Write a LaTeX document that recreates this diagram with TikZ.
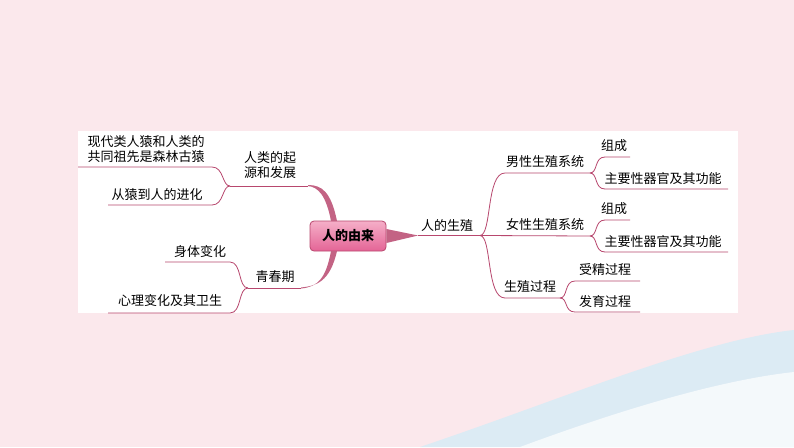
\documentclass[tikz,border=0pt]{standalone}
\usepackage{fontspec}
\usetikzlibrary{calc}
\newfontfamily\cjk{Noto Sans CJK SC}
\begin{document}
\begin{tikzpicture}[x=1pt,y=-1pt,
  ln/.style={draw=lc,line width=0.8pt},
  lbl/.style={font=\cjk\fontsize{13}{15}\selectfont,inner sep=1pt,align=left}]
\definecolor{lc}{HTML}{B8476E}
\definecolor{bg}{HTML}{FBE8EC}
\definecolor{wv}{HTML}{DCEBF4}
\useasboundingbox (0,0) rectangle (794,447);
\fill[bg] (0,0) rectangle (794,447);
\fill[wv] (420,447) .. controls (560,400) and (700,340) .. (794,330) -- (794,447) -- cycle;
\fill[white,opacity=0.7] (520,447) .. controls (620,410) and (720,380) .. (794,372) -- (794,447) -- cycle;
\fill[white] (78,131) rectangle (738,313);
% central
\node[draw=lc,line width=0.8pt,rounded corners=4pt,top color={rgb,255:red,245;green,175;blue,200},bottom color={rgb,255:red,228;green,100;blue,150},minimum width=76pt,minimum height=30pt,font=\cjk\bfseries\fontsize{13}{15}\selectfont] (c) at (348,236) {人的由来};
% thick branches
\fill[lc!85] (331,221) .. controls (326,195) and (318,187) .. (308,186) -- (308,185) .. controls (322,185) and (331,192) .. (337,221) -- cycle;
\fill[lc!85] (331,251) .. controls (326,278) and (318,287) .. (301,288.5) -- (301,287.5) .. controls (316,286) and (330,282) .. (337,251) -- cycle;
\coordinate (a1) at (308,186); \coordinate (a0) at (230,186);
\draw[ln] (a1) -- (a0);
\node[lbl] (ta) at (270,165) {人类的起\\源和发展};
\draw[ln] (a0) .. controls (222,186) and (224,167) .. (212,167) -- (78,167);
\node[lbl] (t1) at (146,149) {现代类人猿和人类的\\共同祖先是森林古猿};
\draw[ln] (a0) .. controls (222,186) and (224,205) .. (212,205) -- (108,205);
\node[lbl] (t2) at (157,195) {从猿到人的进化};
\coordinate (b1) at (301,288); \coordinate (b0) at (248,288);
\draw[ln] (b1) -- (b0);
\node[lbl] (tb) at (275,277) {青春期};
\draw[ln] (b0) .. controls (238,288) and (242,262) .. (230,262) -- (165,262);
\node[lbl] (t3) at (200,252) {身体变化};
\draw[ln] (b0) .. controls (238,288) and (242,313) .. (230,313) -- (108,313);
\node[lbl] (t4) at (170,301) {心理变化及其卫生};
% right
\fill[lc!85] ($(c.east)+(0,-7)$) -- (418,235.5) -- ($(c.east)+(0,7)$) -- cycle;
\coordinate (r0) at (418,235.5); \coordinate (r1) at (480,235.5);
\draw[ln] (r0) -- (r1);
\node[lbl] (tr) at (447,226) {人的生殖};
\draw[ln] (r1) .. controls (492,235) and (486,173) .. (505,173) -- (590,173);
\node[lbl] (m) at (545,162) {男性生殖系统};
\draw[ln] (r1) -- (590,236);
\node[lbl] (f) at (545,225) {女性生殖系统};
\draw[ln] (r1) .. controls (492,236) and (486,298) .. (505,298) -- (560,298);
\node[lbl] (p) at (530,287) {生殖过程};
\draw[ln] (590,173) .. controls (598,173) and (594,157) .. (605,157) -- (630,157);
\node[lbl] (m1) at (614,146) {组成};
\draw[ln] (590,173) .. controls (598,173) and (594,189) .. (605,189) -- (728,189);
\node[lbl] (m2) at (663,179) {主要性器官及其功能};
\draw[ln] (590,236) .. controls (598,236) and (594,220) .. (605,220) -- (630,220);
\node[lbl] (f1) at (614,209) {组成};
\draw[ln] (590,236) .. controls (598,236) and (594,252) .. (605,252) -- (728,252);
\node[lbl] (f2) at (663,242) {主要性器官及其功能};
\draw[ln] (560,298) .. controls (568,298) and (564,281) .. (575,281) -- (640,281);
\node[lbl] (p1) at (605,270) {受精过程};
\draw[ln] (560,298) .. controls (568,298) and (564,312) .. (575,312) -- (640,312);
\node[lbl] (p2) at (605,302) {发育过程};
\end{tikzpicture}
\end{document}
